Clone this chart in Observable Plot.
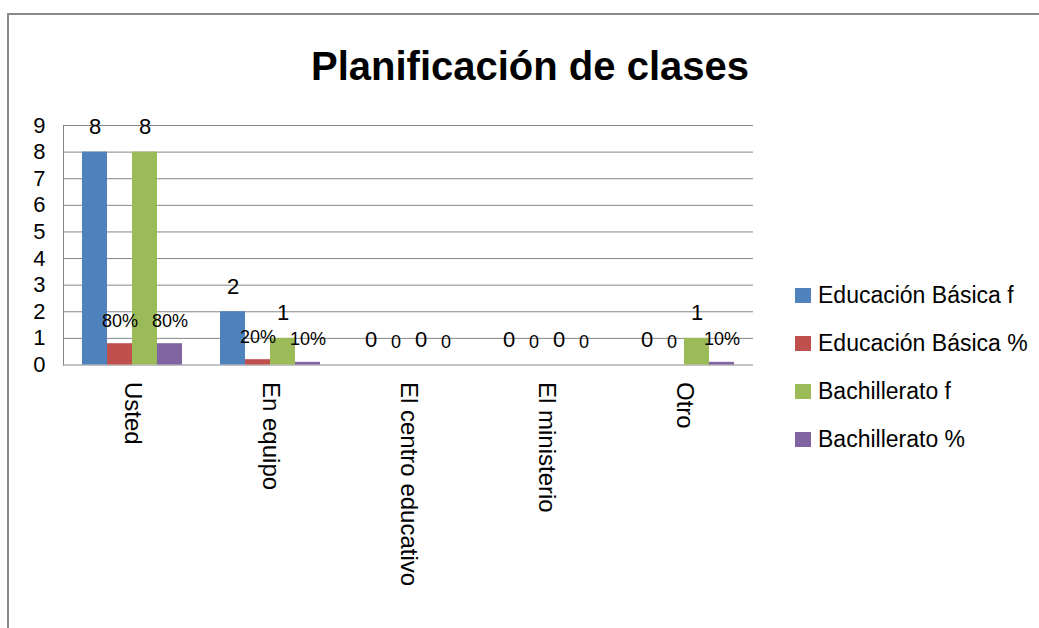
<!DOCTYPE html>
<html>
<head>
<meta charset="utf-8">
<script src="https://cdn.jsdelivr.net/npm/d3@7"></script>
<script src="https://cdn.jsdelivr.net/npm/@observablehq/plot@0.6"></script>
<style>
  html, body { margin: 0; padding: 0; background: #fff; overflow: hidden; }
  body { width: 1039px; height: 628px; position: relative; font-family: "Liberation Sans", Arial, sans-serif; color: #000; }
  #border { position: absolute; left: 7px; top: 13px; width: 1100px; height: 700px; border-left: 2px solid #8a8a8a; border-top: 2px solid #8a8a8a; box-sizing: border-box; }
  #title { position: absolute; left: 0; top: 46px; width: 1060px; text-align: center; font-size: 40px; line-height: 40px; font-weight: bold; }
  #chart { position: absolute; left: 0; top: 0; }
  #legend { position: absolute; left: 795px; top: 271px; font-size: 23px; }
  .row { height: 48px; display: flex; align-items: center; white-space: nowrap; }
  .sw { width: 16px; height: 15px; margin-right: 7px; flex: none; }
</style>
</head>
<body>
<div id="border"></div>
<div id="title">Planificación de clases</div>
<div id="chart"></div>
<div id="legend"></div>
<script>
const categories = ["Usted", "En equipo", "El centro educativo", "El ministerio", "Otro"];
const series = ["Educación Básica f", "Educación Básica %", "Bachillerato f", "Bachillerato %"];
const basicaF = [8, 2, 0, 0, 0];
const basicaPct = [0.8, 0.2, 0, 0, 0];
const bachF = [8, 1, 0, 0, 1];
const bachPct = [0.8, 0.1, 0, 0, 0.1];
const yTicks = [0, 1, 2, 3, 4, 5, 6, 7, 8, 9];
const colors = ["#4F81BD", "#C0504D", "#9BBB59", "#8064A2"];

const seriesValues = [basicaF, basicaPct, bachF, bachPct];
const data = categories.flatMap((c, i) =>
  series.map((s, j) => ({cat: c, series: s, value: seriesValues[j][i], pct: j % 2 === 1}))
);
const fData = data.filter(d => !d.pct);
const pData = data.filter(d => d.pct);

const chart = Plot.plot({
  width: 1039,
  height: 628,
  marginLeft: 63,
  marginRight: 286,
  marginTop: 125,
  marginBottom: 263.5,
  style: {fontFamily: "'Liberation Sans', Arial, sans-serif", color: "#000", background: "transparent", overflow: "visible"},
  fx: {domain: categories, padding: 0, axis: null},
  x: {domain: series, paddingInner: 0, paddingOuter: 0.756, axis: null},
  y: {domain: [0, 9], axis: null},
  color: {domain: series, range: colors},
  marks: [
    Plot.ruleY(yTicks, {y: d => d, stroke: "#868686", strokeWidth: 1}),
    Plot.frame({anchor: "left", facetAnchor: "left", stroke: "#868686"}),
    Plot.barY(data, {fx: "cat", x: "series", y: "value", fill: "series"}),
    Plot.text(fData, {fx: "cat", x: "series", y: "value", text: d => String(d.value), fontSize: 22, lineAnchor: "bottom", dy: -18, fill: "#000"}),
    Plot.text(pData, {fx: "cat", x: "series", y: "value", text: d => d.value === 0 ? "0" : Math.round(d.value * 100) + "%", fontSize: 18, lineAnchor: "bottom", dy: -17, fill: "#000"}),
    Plot.axisY({ticks: yTicks, tickSize: 0, tickPadding: 18, fontSize: 22, anchor: "left", label: null, tickFormat: d => String(d)}),
    Plot.axisFx({anchor: "bottom", tickRotate: 90, tickSize: 0, tickPadding: 17, fontSize: 24, label: null})
  ]
});
document.getElementById("chart").appendChild(chart);

const legend = document.getElementById("legend");
series.forEach((s, i) => {
  const row = document.createElement("div");
  row.className = "row";
  const sw = document.createElement("span");
  sw.className = "sw";
  sw.style.background = colors[i];
  const label = document.createElement("span");
  label.textContent = s;
  row.appendChild(sw);
  row.appendChild(label);
  legend.appendChild(row);
});
</script>
</body>
</html>
